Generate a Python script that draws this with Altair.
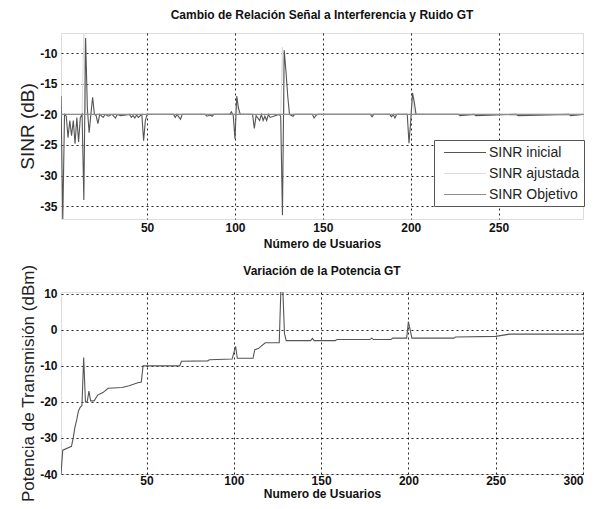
import altair as alt
import pandas as pd

# ---------------- data ----------------
series_names = ["SINR inicial", "SINR ajustada", "SINR Objetivo"]
series_colors = ["#555555", "#dddddd", "#8e8e8e"]

ini_x = [1, 2, 3, 4, 5, 6, 7, 8, 9, 10, 11, 12, 13, 14, 15, 16, 17, 18, 19, 20,
         21, 22, 23, 25, 26, 28, 30, 32, 33, 35, 40, 41, 42, 43, 44, 45, 47, 48, 49, 50,
         65, 66, 67, 68, 69, 70, 83, 84, 86, 87, 88, 97, 98, 99, 100, 101, 102, 103,
         110, 111, 112, 114, 115, 116, 117, 118, 119, 120, 125, 126, 127, 128, 129, 130, 131,
         133, 134, 144, 145, 146, 147, 177, 178, 179, 188, 189, 190, 191, 192,
         198, 199, 200, 201, 202, 203, 227, 228, 236, 237, 260, 261, 290, 291, 298]
ini_y = [-17, -37.5, -20, -20.3, -23.8, -21, -23.5, -21, -24.8, -20.5, -24.5, -20.5, -20, -34, -7.5, -19, -23, -20, -17.2, -20,
         -20.2, -21.5, -20, -20.5, -20, -20.3, -20, -20.6, -20, -20.2, -20, -20.5, -20.2, -20.6, -20.1, -20.5, -20, -24.3, -21, -20,
         -20, -20.5, -20, -20.4, -20.8, -20, -20, -20.3, -20.1, -20.3, -20, -20, -19.6, -20.2, -24, -17, -19, -20,
         -20, -22.3, -20.2, -21, -20, -21, -20.3, -21, -20, -20.5, -20, -20.3, -36.5, -9.5, -13, -17, -20,
         -20.3, -20, -20, -20.6, -20.2, -20, -20, -20.4, -20, -20, -20.4, -20, -20.6, -20,
         -20, -24.7, -21, -16.5, -18, -20, -20, -20.2, -20, -20.2, -20, -20.2, -20, -20.2, -20]

aju_x = [1, 13, 14, 15, 16, 100, 101, 102, 126, 127, 128, 200, 201, 202, 298]
aju_y = [-20, -20, -6, -19.5, -20, -20, -17.5, -20, -20, -9, -20, -20, -17, -20, -20]

obj_x = [1, 298]
obj_y = [-20, -20]

pot_x = [1, 2, 7, 8, 9, 10, 11, 12, 13, 14, 15, 16, 17, 18, 20, 22, 25, 28, 36, 40, 45, 47, 48,
         69, 70, 85, 86, 99, 101, 102, 111, 112, 114, 118, 126, 127, 128, 129, 130,
         144, 145, 146, 158, 159, 178, 179, 180, 190, 191, 199, 200, 202, 226, 227, 250, 258, 300]
pot_y = [-40, -33.4, -32.3, -30, -27, -25, -22.5, -21.5, -21, -7.7, -20, -20, -17, -19.7, -19.7, -18.1, -17.4, -16.2, -16, -15.5, -14.7, -14.5, -10,
         -10, -8.7, -8.6, -8.3, -8.1, -4.6, -7.9, -7.9, -5.5, -5.2, -3.6, -3.6, 12, 12, -1, -3,
         -3, -2.4, -3, -3, -2.7, -2.7, -2.3, -2.7, -2.7, -2.3, -2.3, 2.3, -2.3, -2.3, -2.0, -1.8, -1.2, -1.2]

top_ticks_x = [50, 100, 150, 200, 250]
top_ticks_y = [-35, -30, -25, -20, -15, -10]
bot_ticks_x = [50, 100, 150, 200, 250, 300]
bot_ticks_y = [-40, -30, -20, -10, 0, 10]

# ---------------- frames ----------------
top_df = pd.concat([
    pd.DataFrame({"x": ini_x, "y": ini_y, "serie": series_names[0]}),
    pd.DataFrame({"x": aju_x, "y": aju_y, "serie": series_names[1]}),
    pd.DataFrame({"x": obj_x, "y": obj_y, "serie": series_names[2]}),
], ignore_index=True)
pot_df = pd.DataFrame({"x": pot_x, "y": pot_y})

FONT = "Liberation Sans"
MINUS = "datum.value < 0 ? '-' + abs(datum.value) : '' + datum.value"

color_scale = alt.Scale(domain=series_names, range=series_colors)

def axis_x(title, values, lp, tp, flush=False):
    return alt.Axis(title=title, values=values, grid=True, gridDash=[2, 3], gridColor="#000000",
                    gridOpacity=0.85, domain=False, ticks=False, labelFont=FONT, labelFontSize=12,
                    labelFontWeight="bold", labelColor="#111", labelPadding=lp, titleFont=FONT,
                    titleFontSize=12, titleFontWeight="bold", titleColor="#111", titlePadding=tp,
                    labelFlush=flush, labelExpr=MINUS)

def axis_y(title, values, tsize):
    return alt.Axis(title=title, values=values, grid=True, gridDash=[2, 3], gridColor="#000000",
                    gridOpacity=0.85, domain=False, ticks=False, labelFont=FONT, labelFontSize=12,
                    labelFontWeight="bold", labelColor="#111", labelPadding=4, titleFont=FONT,
                    titleFontSize=tsize, titleFontWeight="normal", titleColor="#222", titlePadding=2,
                    labelFlush=False, labelExpr=MINUS)

xs_top = alt.X("x:Q", scale=alt.Scale(domain=[1, 298], nice=False, zero=False),
               axis=axis_x("Número de Usuarios", top_ticks_x, 3, 5))
ys_top = alt.Y("y:Q", scale=alt.Scale(domain=[-37.1, -6.7], nice=False, zero=False),
               axis=axis_y("SINR (dB)", top_ticks_y, 19))

legend = alt.Legend(title=None, orient="none", legendX=373, legendY=107, direction="vertical",
                    symbolType="M-1,0H5", symbolSize=196, symbolStrokeWidth=1.2,
                    symbolOffset=4.5, labelFont=FONT, labelFontSize=14, labelColor="#222",
                    strokeColor="#555", fillColor="white", padding=4.5, rowPadding=6,
                    labelOffset=30, values=series_names)

def layer_for(name):
    return alt.Chart(top_df).transform_filter(alt.datum.serie == name).mark_line(
        clip=True, strokeWidth=1.1).encode(
        x=xs_top, y=ys_top,
        color=alt.Color("serie:N", scale=color_scale, legend=legend),
    )

top = alt.layer(
    layer_for("SINR ajustada"),
    layer_for("SINR inicial"),
    layer_for("SINR Objetivo"),
).properties(
    width=522, height=186,
    title=alt.TitleParams("Cambio de Relación Señal a Interferencia y Ruido GT", font=FONT,
                          fontSize=12, fontWeight="bold", color="#111", offset=11),
)

bottom = alt.Chart(pot_df).mark_line(clip=True, strokeWidth=1.1, color="#555555").encode(
    x=alt.X("x:Q", scale=alt.Scale(domain=[1, 300], nice=False, zero=False),
            axis=axis_x("Numero de Usuarios", bot_ticks_x, 1, 2, flush=True)),
    y=alt.Y("y:Q", scale=alt.Scale(domain=[-40, 10.5], nice=False, zero=False),
            axis=axis_y("Potencia de Transmisión (dBm)", bot_ticks_y, 17)),
).properties(
    width=522, height=182,
    title=alt.TitleParams("Variación de la Potencia GT", font=FONT, fontSize=12,
                          fontWeight="bold", color="#111", offset=-14),
)

chart = alt.vconcat(top, bottom, spacing=13).properties(
    padding={"left": 10, "top": 0, "right": 0, "bottom": 0},
).configure_view(stroke="#555555", strokeWidth=1).configure(background="white")

chart.save("out.html", embed_options={"renderer": "svg", "actions": False})
